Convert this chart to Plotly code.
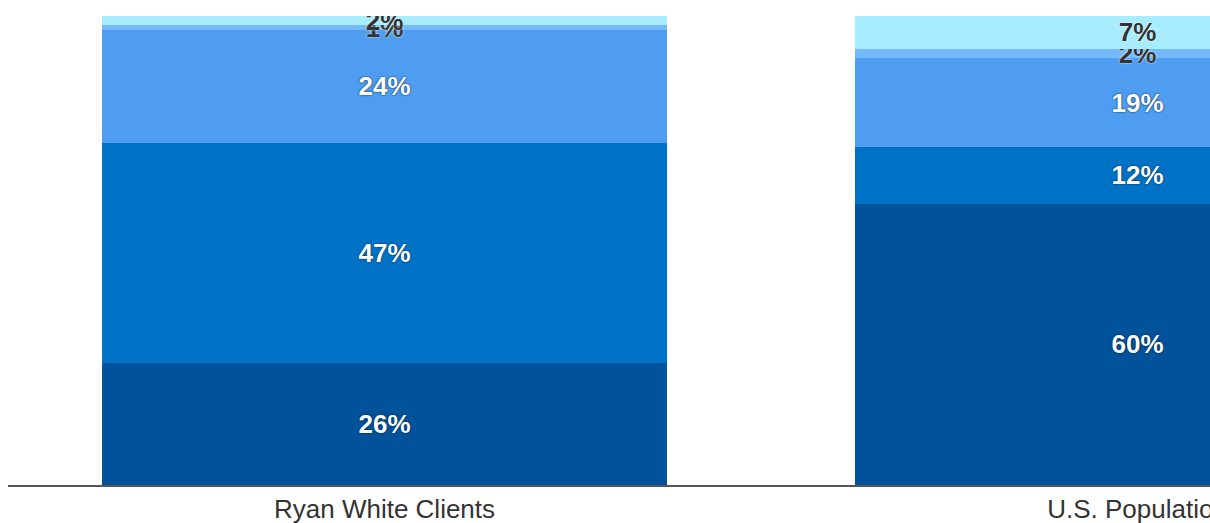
import plotly.graph_objects as go

categories = ["Ryan White Clients", "U.S. Population"]
series_names = ["White", "Black/African American", "Hispanic/Latino", "Asian", "Other"]
white_vals = [26, 60]
black_vals = [47, 12]
hispanic_vals = [24, 19]
asian_vals = [1, 2]
other_vals = [2, 7]

series_values = [white_vals, black_vals, hispanic_vals, asian_vals, other_vals]
colors = ["#00529B", "#0072C6", "#4F9DF0", "#74BAF8", "#A8EDFF"]
text_colors = ["#FFFFFF", "#FFFFFF", "#FFFFFF", "#333333", "#333333"]
text_shadows = ["0px 0px 2px #001a33", "0px 0px 2px #001a33", "0px 0px 2px #001a33",
                "0px 0px 2px #FFFFFF", "0px 0px 2px #FFFFFF"]

fig = go.Figure()
for name, vals, col, tcol, tsh in zip(series_names, series_values, colors, text_colors, text_shadows):
    fig.add_trace(go.Bar(
        x=categories,
        y=vals,
        name=name,
        marker=dict(color=col, line=dict(width=0)),
        texttemplate="%{y}%",
        textposition="inside",
        insidetextanchor="middle",
        constraintext="none",
        textangle=0,
        textfont=dict(family="Liberation Sans, Arial, sans-serif", size=26, color=tcol,
                      weight="bold", shadow=tsh),
        hoverinfo="skip",
        showlegend=False,
    ))

fig.update_layout(
    barmode="stack",
    bargap=0.25,
    width=1210,
    height=523,
    margin=dict(l=8, r=0, t=16, b=38),
    paper_bgcolor="white",
    plot_bgcolor="white",
    uniformtext=dict(mode=False),
    xaxis=dict(
        type="category",
        range=[-0.5, 1.0963],
        showgrid=False,
        showline=True,
        linecolor="#555555",
        linewidth=2,
        ticks="",
        tickfont=dict(family="Liberation Sans, Arial, sans-serif", size=26, color="#333333"),
        automargin=False,
        fixedrange=True,
    ),
    yaxis=dict(
        range=[0, 100],
        visible=False,
        showgrid=False,
        zeroline=False,
        fixedrange=True,
    ),
)

fig.write_html("out.html")
